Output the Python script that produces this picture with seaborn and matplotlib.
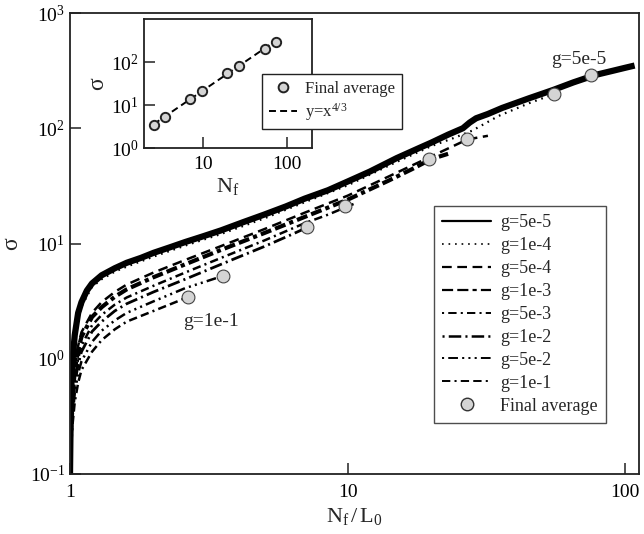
import numpy as np
import pandas as pd
import matplotlib
matplotlib.use("Agg")
import matplotlib.pyplot as plt
import seaborn as sns
from matplotlib.lines import Line2D
from matplotlib.ticker import FixedLocator, FixedFormatter, NullLocator, LogFormatterSciNotation

# ---------------- data ----------------
labels = ["g=5e-5", "g=1e-4", "g=5e-4", "g=1e-3", "g=5e-3", "g=1e-2", "g=5e-2", "g=1e-1"]

x_5e5 = [1.0, 1.005, 1.01, 1.02, 1.04, 1.07, 1.1, 1.15, 1.2, 1.3, 1.45, 1.6, 1.8, 2.0, 2.3, 2.6,
         3.0, 3.5, 4.2, 5.0, 6.0, 7.0, 8.5, 10, 12, 15, 18, 20, 23, 26, 27.5, 29, 32, 36, 45, 55,
         65, 78, 90, 100, 108]
y_5e5 = [0.1, 0.3, 0.55, 0.95, 1.6, 2.5, 3.1, 3.9, 4.5, 5.3, 6.1, 6.8, 7.5, 8.3, 9.3, 10.3,
         11.5, 13.0, 15.3, 17.8, 21, 24.5, 29, 34.5, 42, 55, 67, 75, 88, 100, 112, 122, 133, 150,
         182, 215, 250, 290, 315, 335, 350]

x_1e4 = [1.0, 1.01, 1.02, 1.04, 1.07, 1.1, 1.2, 1.3, 1.45, 1.6, 2.0, 2.6, 3.5, 5.0, 7.0, 10,
         15, 20, 24, 28, 35, 45, 57]
y_1e4 = [0.1, 0.5, 0.85, 1.45, 2.25, 2.85, 4.2, 4.9, 5.7, 6.3, 7.7, 9.6, 12.1, 16.5, 22.8, 32,
         51, 70, 82, 95, 128, 165, 203]

x_5e4 = [1.0, 1.01, 1.02, 1.04, 1.07, 1.1, 1.2, 1.3, 1.45, 1.6, 2.0, 2.6, 3.5, 5.0, 7.0, 10,
         14, 20, 27, 32]
y_5e4 = [0.1, 0.3, 0.5, 0.85, 1.3, 1.7, 2.5, 3.1, 3.8, 4.4, 5.6, 7.2, 9.5, 13.3, 18.5, 26,
         38, 57, 80, 86]

x_1e3 = [1.0, 1.01, 1.02, 1.04, 1.07, 1.1, 1.2, 1.3, 1.45, 1.6, 2.0, 2.6, 3.5, 5.0, 7.0, 10,
         14, 17, 20, 23]
y_1e3 = [0.1, 0.27, 0.45, 0.78, 1.2, 1.55, 2.3, 2.8, 3.45, 4.0, 5.1, 6.6, 8.8, 12.3, 17, 24,
         35, 44, 54, 60]

x_5e3 = [1.0, 1.01, 1.02, 1.04, 1.07, 1.1, 1.2, 1.3, 1.45, 1.6, 2.0, 2.6, 3.5, 5.0, 7.0, 8.5,
         10, 10.5]
y_5e3 = [0.1, 0.24, 0.4, 0.67, 1.0, 1.3, 1.95, 2.4, 2.95, 3.4, 4.3, 5.6, 7.5, 10.6, 15, 17.8,
         21, 22]

x_1e2 = [1.0, 1.01, 1.02, 1.04, 1.07, 1.1, 1.2, 1.3, 1.45, 1.6, 2.0, 2.6, 3.5, 5.0, 6.2, 7.4]
y_1e2 = [0.1, 0.22, 0.36, 0.6, 0.9, 1.15, 1.72, 2.1, 2.6, 3.0, 3.8, 4.9, 6.6, 9.4, 11.8, 14.3]

x_5e2 = [1.0, 1.01, 1.02, 1.04, 1.07, 1.1, 1.2, 1.3, 1.45, 1.6, 2.0, 2.6, 3.1, 3.7]
y_5e2 = [0.1, 0.19, 0.3, 0.5, 0.75, 0.95, 1.4, 1.75, 2.15, 2.5, 3.15, 4.1, 4.7, 5.4]

x_1e1 = [1.0, 1.01, 1.02, 1.04, 1.07, 1.1, 1.2, 1.3, 1.45, 1.6, 2.0, 2.4, 2.75]
y_1e1 = [0.1, 0.17, 0.26, 0.42, 0.62, 0.8, 1.15, 1.45, 1.8, 2.1, 2.6, 3.1, 3.55]

avg_x = [2.65, 3.55, 7.15, 9.75, 19.6, 27.0, 55.5, 75.0]
avg_y = [3.45, 5.2, 13.9, 21.2, 54.5, 81.0, 197, 287]

fit_x = [2.6, 78]
fit_y = [3.57, 334]

main_xticks = [1, 10, 100]
main_xticklabels = ["1", "10", "100"]
inset_xticks = [10, 100]
inset_xticklabels = ["10", "100"]
inset_yticks = [1, 10, 100]

# ---------------- style ----------------
sns.set_style("ticks")
plt.rcParams['font.family'] = ['Liberation Serif', 'DejaVu Serif']
plt.rcParams['mathtext.fontset'] = 'custom'
plt.rcParams['mathtext.rm'] = 'Liberation Serif'
plt.rcParams['mathtext.it'] = 'Liberation Serif:italic'
plt.rcParams['mathtext.bf'] = 'Liberation Serif:bold'
plt.rcParams['lines.scale_dashes'] = False
plt.rcParams['axes.edgecolor'] = '#222222'

styles = [
    dict(ls='-', lw=4.5),
    dict(ls=(0, (1.2, 3.5)), lw=1.6),
    dict(ls=(0, (7, 4)), lw=1.8),
    dict(ls=(0, (8, 3, 8, 3, 3, 3)), lw=3.0),
    dict(ls=(0, (1.5, 3, 6, 3)), lw=1.8),
    dict(ls=(0, (1.5, 3, 9, 3)), lw=2.0),
    dict(ls=(0, (1.5, 3, 7, 3, 1.5, 3, 1.5, 3)), lw=1.8),
    dict(ls=(0, (6, 3, 1.5, 3, 6, 3)), lw=1.8),
]
legend_styles = [
    dict(ls='-', lw=1.6),
    dict(ls=(0, (1.2, 3.5)), lw=1.2),
    dict(ls=(0, (7, 4)), lw=1.6),
    dict(ls=(0, (8, 3, 8, 3, 3, 3)), lw=1.6),
    dict(ls=(0, (1.5, 3, 6, 3)), lw=1.4),
    dict(ls=(0, (1.5, 3, 9, 3)), lw=1.8),
    dict(ls=(0, (1.5, 3, 7, 3, 1.5, 3, 1.5, 3)), lw=1.4),
    dict(ls=(0, (6, 3, 1.5, 3, 6, 3)), lw=1.4),
]

curves = [(x_5e5, y_5e5), (x_1e4, y_1e4), (x_5e4, y_5e4), (x_1e3, y_1e3),
          (x_5e3, y_5e3), (x_1e2, y_1e2), (x_5e2, y_5e2), (x_1e1, y_1e1)]

fig = plt.figure(figsize=(6.44, 5.34), dpi=100)
ax = fig.add_axes([70 / 644, 1 - 474 / 534, 569 / 644, 461 / 534])
ax.set_xscale('log')
ax.set_yscale('log')

for (cx, cy), st in zip(curves, styles):
    df = pd.DataFrame({'N': cx, 'sigma': cy})
    sns.lineplot(data=df, x='N', y='sigma', ax=ax, color='black', linewidth=st['lw'],
                 linestyle=st['ls'], estimator=None, sort=False, legend=False,
                 solid_capstyle='butt')

avg_df = pd.DataFrame({'N': avg_x, 'sigma': avg_y})
sns.scatterplot(data=avg_df, x='N', y='sigma', ax=ax, s=85, color='#d4d4d4',
                edgecolor='#444444', linewidth=0.8, zorder=5, legend=False)

ax.set_xlim(1, 112)
ax.set_ylim(0.1, 1000)
ax.xaxis.set_major_locator(FixedLocator(main_xticks))
ax.xaxis.set_major_formatter(FixedFormatter(main_xticklabels))
ax.xaxis.set_minor_locator(NullLocator())
ax.yaxis.set_minor_locator(NullLocator())
ax.yaxis.set_major_formatter(LogFormatterSciNotation())
ax.tick_params(direction='in', length=8, width=1.1, labelsize=14, top=False, right=False,
               colors='#222222', labelcolor='black')
ax.tick_params(axis='x', pad=7)
for sp in ax.spines.values():
    sp.set_linewidth(1.3)
ax.set_xlabel(r'$\mathrm{N_f\,/\,L_0}$', fontsize=16, labelpad=4)
ax.set_ylabel('σ', fontsize=17)
ax.yaxis.set_label_coords(-0.085, 0.5)

ax.text(67.7, 393, 'g=5e-5', ha='center', va='center', fontsize=14)
ax.text(3.22, 2.1, 'g=1e-1', ha='center', va='center', fontsize=14)

handles = []
for lab, st in zip(labels, legend_styles):
    handles.append(Line2D([], [], color='black', linewidth=st['lw'], linestyle=st['ls'], label=lab))
handles.append(Line2D([], [], color='none', marker='o', markersize=9, markerfacecolor='#d4d4d4',
                      markeredgecolor='#333333', markeredgewidth=1.0, label='Final average'))
leg = ax.legend(handles=handles, loc='lower right', bbox_to_anchor=(0.942, 0.111),
                fontsize=13, frameon=True, fancybox=False, edgecolor='#222222',
                handlelength=2.7, labelspacing=0.33, borderpad=0.45, handletextpad=0.5,
                borderaxespad=0)
leg.get_frame().set_linewidth(1.0)

# ---------------- inset ----------------
axin = fig.add_axes([144 / 644, 1 - 148 / 534, 168 / 644, 129 / 534])
axin.set_xscale('log')
axin.set_yscale('log')
axin.set_facecolor('white')
fit_df = pd.DataFrame({'N': fit_x, 'sigma': fit_y})
sns.lineplot(data=fit_df, x='N', y='sigma', ax=axin, color='black', linewidth=1.4,
             linestyle=(0, (5, 3)), estimator=None, sort=False, legend=False)
sns.scatterplot(data=avg_df, x='N', y='sigma', ax=axin, s=45, color='#d4d4d4',
                edgecolor='#222222', linewidth=1.4, zorder=5, legend=False)
axin.set_xlim(2, 200)
axin.set_ylim(1, 1000)
axin.xaxis.set_major_locator(FixedLocator(inset_xticks))
axin.xaxis.set_major_formatter(FixedFormatter(inset_xticklabels))
axin.yaxis.set_major_locator(FixedLocator(inset_yticks))
axin.yaxis.set_major_formatter(LogFormatterSciNotation())
axin.xaxis.set_minor_locator(NullLocator())
axin.yaxis.set_minor_locator(NullLocator())
axin.tick_params(direction='in', length=8, width=1.1, labelsize=14, top=False, right=False,
                 colors='#222222', labelcolor='black')
axin.tick_params(axis='x', pad=6)
for sp in axin.spines.values():
    sp.set_linewidth(1.3)
axin.set_xlabel(r'$\mathrm{N_f}$', fontsize=16, labelpad=2)
axin.set_ylabel('σ', fontsize=17, labelpad=2)

in_handles = [
    Line2D([], [], color='none', marker='o', markersize=7, markerfacecolor='#d4d4d4',
           markeredgecolor='#222222', markeredgewidth=1.4, label='Final average'),
    Line2D([], [], color='black', linewidth=1.4, linestyle=(0, (5, 3)), label=r'y=x$^{4/3}$'),
]
leg2 = axin.legend(handles=in_handles, loc='upper left', bbox_to_anchor=(0.702, 0.574),
                   fontsize=12, frameon=True, fancybox=False, edgecolor='#222222',
                   handlelength=1.7, labelspacing=0.25, borderpad=0.4, handletextpad=0.5,
                   borderaxespad=0, framealpha=1)
leg2.get_frame().set_linewidth(1.0)
leg2.set_zorder(20)

fig.savefig('out.png', dpi=100)
